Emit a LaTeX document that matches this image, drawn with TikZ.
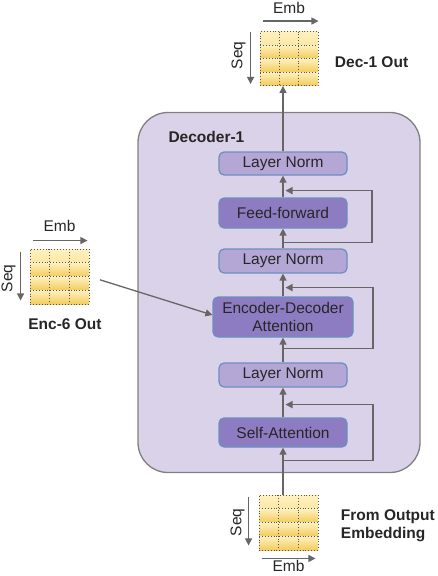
\documentclass[tikz,border=0pt]{standalone}
\usepackage{fontspec}
\setmainfont{Liberation Sans}
\usetikzlibrary{arrows.meta,calc}
\definecolor{gtop}{HTML}{FFF1BE}
\definecolor{gbot}{HTML}{F3CB5E}
\definecolor{lnfill}{HTML}{B4A7D6}
\definecolor{dkfill}{HTML}{8E7CC3}
\definecolor{bord}{HTML}{6C8EBF}
\definecolor{decfill}{HTML}{DAD2E8}
\definecolor{decbord}{HTML}{808080}
\definecolor{arrc}{HTML}{666666}
\definecolor{txt}{HTML}{262626}
\definecolor{dotc}{HTML}{555555}
\begin{document}
\begin{tikzpicture}[x=1pt,y=-1pt,
  every node/.style={font=\fontsize{15.5}{18}\selectfont, text=txt},
  boldlabel/.style={font=\fontsize{15.5}{18}\selectfont\bfseries},
  lnbox/.style={draw=bord, line width=1.2pt, fill=lnfill, rounded corners=5pt,
    minimum width=128pt, minimum height=24pt, inner sep=0pt},
  dkbox/.style={lnbox, fill=dkfill, minimum height=30pt},
  decbox/.style={draw=decbord, line width=1.3pt, fill=decfill, rounded corners=30pt,
    minimum width=282pt, minimum height=360pt, inner sep=0pt},
  arr/.style={draw=arrc, line width=1.3pt, -{Triangle[length=7pt,width=7pt]}},
  gdot/.style={draw=dotc, line width=0.9pt, dotted},
  gridbox/.style={minimum width=58pt, minimum height=54pt, inner sep=0pt, gdot,
    path picture={
      \foreach \a/\b in {0/0.25,0.25/0.5,0.5/0.75,0.75/1}{
        \shade[top color=gtop, bottom color=gbot]
          ($(path picture bounding box.north west)!\a!(path picture bounding box.south west)$) rectangle
          ($(path picture bounding box.north east)!\b!(path picture bounding box.south east)$);
      }
      \foreach \c in {0.3333,0.6667}{
        \draw[gdot] ($(path picture bounding box.north west)!\c!(path picture bounding box.north east)$) --
          ($(path picture bounding box.south west)!\c!(path picture bounding box.south east)$);
      }
      \foreach \c in {0.25,0.5,0.75}{
        \draw[gdot] ($(path picture bounding box.north west)!\c!(path picture bounding box.south west)$) --
          ($(path picture bounding box.north east)!\c!(path picture bounding box.south east)$);
      }
    }}
]
\useasboundingbox (0,0) rectangle (438,576);

% decoder container
\node[decbox] (decoder) at (279,292.5) {};
\node[boldlabel, anchor=west] (declabel) at (165,137) {Decoder-1};

% blocks
\node[lnbox, minimum height=23pt] (ln1) at (283,163.5) {Layer Norm};
\node[dkbox] (ff) at (283,213) {Feed-forward};
\node[lnbox] (ln2) at (283,261) {Layer Norm};
\node[dkbox, minimum width=140pt, minimum height=40pt, align=center] (eda) at (283,317) {Encoder-Decoder\\Attention};
\node[lnbox] (ln3) at (283,375) {Layer Norm};
\node[dkbox, minimum height=29pt] (sa) at (283,432.5) {Self-Attention};

% grids
\node[gridbox] (dec) at (289,58.5) {};
\node[gridbox, minimum width=59pt, minimum height=55pt] (enc) at (59.5,276.5) {};
\node[gridbox, minimum width=59pt, minimum height=55pt] (inp) at (288.5,522.5) {};

% grid axes and labels: Dec-1 Out
\draw[arr] ($(dec.north west)+(3,-10)$) -- ($(dec.north east)+(0,-10)$);
\node (decemb) at ($(dec.north)+(0,-23)$) {Emb};
\draw[arr] ($(dec.north west)+(-9,1)$) -- ($(dec.south west)+(-9,-2)$);
\node[rotate=90] (decseq) at ($(dec.west)+(-21,-3)$) {Seq};
\node[boldlabel, anchor=west] (decout) at ($(dec.east)+(13,3.5)$) {Dec-1 Out};

% Enc-6 Out
\draw[arr] ($(enc.north west)+(3,-8)$) -- ($(enc.north east)+(-2,-8)$);
\node (encemb) at ($(enc.north)+(0,-23)$) {Emb};
\draw[arr] ($(enc.north west)+(-9,3)$) -- ($(enc.south west)+(-9,-4)$);
\node[rotate=90] (encseq) at ($(enc.west)+(-21,2)$) {Seq};
\node[boldlabel] (encout) at ($(enc.south)+(5.5,20)$) {Enc-6 Out};

% From Output Embedding
\draw[arr] ($(inp.south west)+(3,8)$) -- ($(inp.south east)+(-3,8)$);
\node (inpemb) at ($(inp.south)+(0,16)$) {Emb};
\draw[arr] ($(inp.north west)+(-10,2)$) -- ($(inp.south west)+(-10,-5)$);
\node[rotate=90] (inpseq) at ($(inp.west)+(-21,0)$) {Seq};
\node[boldlabel, anchor=west, align=left] (inpout) at ($(inp.east)+(19,3.5)$) {From Output\\Embedding};

% main flow
\draw[arr] (inp.north -| sa.south) -- (sa.south);
\draw[arr] (sa) -- (ln3);
\draw[arr] (ln3) -- (eda);
\draw[arr] (eda) -- (ln2);
\draw[arr] (ln2) -- (ff);
\draw[arr] (ff) -- (ln1);
\draw[arr] (ln1.north) -- (ln1.north |- dec.south);

% residual connections
\draw[arr] ($(sa.south)+(0,13)$) -| ($(ln3.south)+(90,17)$) -- ($(ln3.south)+(2.5,17)$);
\draw[arr] ($(eda.south)+(0,11)$) -| ($(ln2.south)+(90,14)$) -- ($(ln2.south)+(2.5,14)$);
\draw[arr] ($(ff.south)+(0,14)$) -| ($(ln1.south)+(89,15)$) -- ($(ln1.south)+(2.5,15)$);

% encoder output into encoder-decoder attention
\draw[arr, shorten <=11pt] (enc.east) -- ($(eda.west)+(0,-2)$);
\end{tikzpicture}
\end{document}
